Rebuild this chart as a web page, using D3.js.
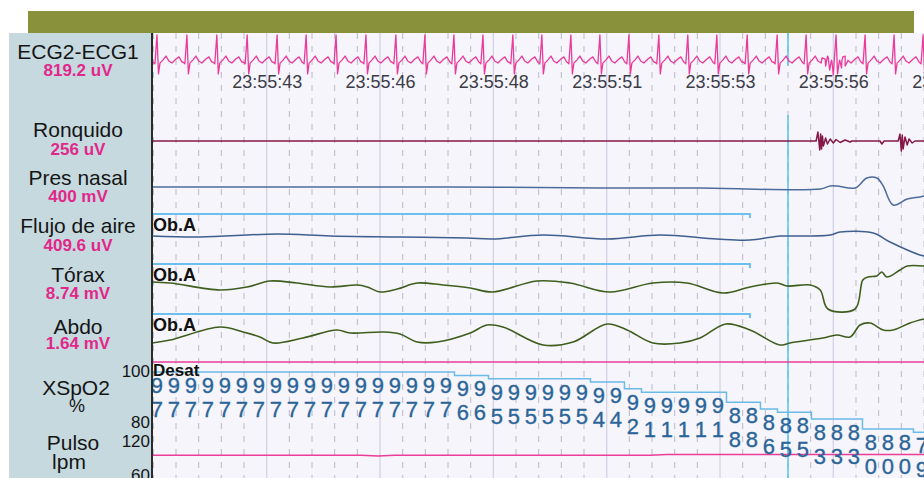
<!DOCTYPE html>
<html>
<head>
<meta charset="utf-8">
<script src="https://cdn.jsdelivr.net/npm/d3@7"></script>
<style>
  body { margin: 0; background: #fff; }
  svg { display: block; font-family: "Liberation Sans", Arial, sans-serif; }
</style>
</head>
<body>
<svg id="chart" width="924" height="478"></svg>
<script>
// ---- values (times are seconds from the left edge of the page) ----
const trackNames = ["ECG2-ECG1", "Ronquido", "Pres nasal", "Flujo de aire", "Tórax", "Abdo"];
const trackUnits = ["819.2 uV", "256 uV", "400 mV", "409.6 uV", "8.74 mV", "1.64 mV"];

const tickTimes = [2.53, 5.03, 7.53, 10.03, 12.53, 15.03, 17.53];
const tickLabels = ["23:55:43", "23:55:46", "23:55:48", "23:55:51", "23:55:53", "23:55:56", "23:55:58"];

// R-peak times
const ecgBeats = [0.11, 0.77, 1.43, 2.10, 2.76, 3.40, 4.06, 4.72, 5.38, 6.02, 6.66, 7.30, 7.96, 8.60,
  9.24, 9.88, 10.52, 11.18, 11.82, 12.46, 13.13, 13.79, 14.43, 15.09, 15.73, 16.37, 17.01];
// one heart beat: [seconds from R, amplitude]
const ecgShape = [[-0.09, 0], [-0.045, -0.07], [0, 1], [0.033, -0.44], [0.066, -0.04], [0.13, 0.07],
  [0.2, 0.22], [0.26, 0.04], [0.33, -0.04], [0.42, 0.11], [0.485, 0.19], [0.55, 0]];
// movement artefact on the ECG
const ecgArtifact = [[14.78, 0.15], [14.86, -0.15], [14.90, 0.22], [14.95, -0.3], [14.99, 0.07],
  [15.03, -0.48], [15.17, 0.07], [15.21, -0.22], [15.24, 0.19], [15.29, -0.15], [15.35, 0.07]];

const snore = [[0, 0], [14.65, 0], [14.69, 0.9], [14.73, -0.9], [14.75, 0.7], [14.77, -0.8], [14.79, 0.5],
  [14.81, -0.5], [14.86, 0.3], [14.90, -0.3], [14.96, 0.2], [15.03, -0.2], [15.09, 0.15], [15.18, -0.15],
  [15.29, 0.1], [15.40, -0.1], [15.44, 0], [16.06, 0], [16.10, -0.3], [16.15, 0], [16.46, 0],
  [16.50, 0.7], [16.53, -1.0], [16.55, 0.6], [16.57, -0.8], [16.61, 0.4], [16.66, -0.4], [16.70, 0.2],
  [16.77, -0.2], [16.83, 0], [17.03, 0]];

const presNasal = [[0, 0.1], [3.27, 0.1], [6.57, 0.1], [9.88, 0], [12.09, 0], [14.74, -0.1], [14.96, 0.2],
  [15.11, 0.2], [15.51, 0], [15.77, 1.0], [15.99, 1.0], [16.13, 0.2], [16.35, -1.7], [16.66, -1.1],
  [16.94, -0.9], [17.03, -0.8]];

const airflow = [[0, 0], [1.06, -0.1], [2.76, 0.2], [3.93, 0], [5.47, -0.1], [6.95, -0.2], [7.52, -0.3],
  [8.63, 0.1], [10.04, -0.3], [11.21, 0.1], [12.46, -0.3], [13.19, -0.4], [13.85, 0], [14.01, 0],
  [14.96, 0.1], [15.18, 0.4], [15.91, 0.3], [16.28, -0.6], [16.94, -1.9], [17.03, -2.0]];

const thorax = [[0, 0.25], [0.40, 0.2], [1.50, -0.15], [2.10, 0], [2.60, 0.3], [3.20, 0.2], [3.93, 0],
  [4.53, 0.1], [4.75, 0], [5.03, -0.25], [5.41, -0.1], [5.85, 0.2], [6.42, 0.1], [7.02, -0.05],
  [7.52, -0.25], [8.49, 0.3], [9.22, 0.2], [10.10, -0.25], [11.05, 0.2], [11.80, 0.2], [12.60, -0.3],
  [13.19, 0], [13.79, 0.2], [14.01, 0.05], [14.52, 0.1], [14.74, -0.15], [14.91, -1.1], [15.51, -1.1],
  [15.68, 0.35], [15.79, 0.5], [15.99, 0.55], [16.10, 0.75], [16.21, 0.5], [16.50, 0.85], [16.66, 1.05],
  [17.03, 1.05]];

const abdomen = [[0, -0.45], [0.40, -0.3], [1.50, 0.35], [2.01, 0.1], [2.38, -0.15], [2.67, -0.45],
  [3.33, -0.2], [4.08, 0.2], [4.37, 0.05], [5.10, 0.1], [5.47, 0], [5.85, -0.4], [6.29, -0.4],
  [7.02, 0.05], [7.39, 0.45], [7.74, 0.35], [8.63, -0.55], [9.29, -0.4], [10.04, 0.5], [10.48, 0.2],
  [11.05, -0.45], [11.65, -0.45], [12.09, -0.2], [12.66, 0.5], [13.19, 0.2], [13.85, -0.55],
  [14.07, -0.45], [14.80, -0.2], [15.11, -0.05], [15.40, -0.15], [15.62, 0.45], [15.84, 0.55],
  [16.13, 0.2], [16.35, 0.2], [16.72, 0.55], [17.03, 0.75]];

const eventLabel = "Ob.A";
const eventSpan = [0, 13.19];
const desatLabel = "Desat";
const cursorTime = 14.03;

// SpO2 (%) and pulse (lpm) samples
const spo2Start = 0.11, spo2Step = 0.375;
const spo2 = [97, 97, 97, 97, 97, 97, 97, 97, 97, 97, 97, 97, 97, 97, 97, 97, 97, 97,
  96, 96, 95, 95, 95, 95, 95, 95, 94, 94, 92, 91, 91, 91, 91, 91,
  88, 88, 86, 85, 85, 83, 83, 83, 80, 80, 80, 79];
const pulse = [91, 91, 91, 91, 91, 91, 91, 91, 91, 91, 91, 91, 91, 90, 91, 91, 91, 91,
  91, 91, 91, 91, 91, 91, 91, 91, 91, 91, 91, 91, 92, 92, 92, 92,
  92, 92, 92, 92, 92, 92, 92, 92, 92, 92, 92, 92];
const spo2Ticks = ["100", "80"];
const pulseTicks = ["120", "60"];

// ---- layout ----
const W = 924, H = 478;
const plotLeft = 152, plotTop = 33;
const svg = d3.select("#chart");

const x = d3.scaleLinear().domain([0, 17.03]).range([plotLeft, W]);

function band(center, half) {
  return d3.scaleLinear().domain([-1, 1]).range([center + half, center - half]);
}
const yEcg = band(62, 27);
const ySnore = band(141, 10);
const yPres = band(188, 10);
const yFlow = band(236, 10);
const yThorax = band(287, 20);
const yAbdo = band(334, 20);
const ySpo2 = d3.scaleLinear().domain([80, 100]).range([429, 362]);
const yPulse = d3.scaleLinear().domain([60, 120]).range([478, 434]);

// background pieces
svg.append("rect").attr("x", 28).attr("y", 11).attr("width", 886).attr("height", 22).attr("fill", "#8a913b");
svg.append("rect").attr("x", 9).attr("y", plotTop).attr("width", plotLeft - 9).attr("height", H - plotTop).attr("fill", "#c6d9df");
svg.append("rect").attr("x", plotLeft).attr("y", plotTop).attr("width", W - plotLeft).attr("height", H - plotTop).attr("fill", "#f6f5fb");

svg.append("clipPath").attr("id", "plot")
  .append("rect").attr("x", plotLeft).attr("y", plotTop).attr("width", W - plotLeft).attr("height", H - plotTop);

const plot = svg.append("g").attr("clip-path", "url(#plot)");

// vertical grid: dashed every 0.5 s, solid at the labelled times
const gridTimes = d3.range(0.03, 17.1, 0.5);
const isMajor = d => tickTimes.some(t => Math.abs(t - d) < 0.01);
plot.selectAll(".grid").data(gridTimes).enter().append("line")
  .attr("x1", d => x(d)).attr("x2", d => x(d))
  .attr("y1", plotTop).attr("y2", H)
  .attr("stroke", d => isMajor(d) ? "#d3d2e6" : "#b9b9c9")
  .attr("stroke-width", d => isMajor(d) ? 1.3 : 1)
  .attr("stroke-dasharray", d => isMajor(d) ? null : "6,7");

// time labels
const xAxis = d3.axisBottom(x).tickValues(tickTimes).tickFormat((d, i) => tickLabels[i]).tickSize(0).tickPadding(3);
const axisG = svg.append("g").attr("transform", "translate(0,72)").call(xAxis);
axisG.select(".domain").remove();
axisG.selectAll("text").attr("font-size", 18).attr("fill", "#3c3c48")
  .attr("font-family", '"Liberation Sans", Arial, sans-serif');

// cursor
plot.append("line").attr("x1", x(cursorTime)).attr("x2", x(cursorTime)).attr("y1", plotTop).attr("y2", 66)
  .attr("stroke", "#5cc0ea").attr("stroke-width", 1.5);
plot.append("line").attr("x1", x(cursorTime)).attr("x2", x(cursorTime)).attr("y1", 115).attr("y2", H)
  .attr("stroke", "#5cc0ea").attr("stroke-width", 1.5);

// ECG built from beat times and the beat shape
let ecgPts = [];
ecgBeats.forEach((b, i) => {
  const next = i < ecgBeats.length - 1 ? ecgBeats[i + 1] : 99;
  ecgShape.forEach(([dt, v]) => {
    const t = b + dt;
    if (t < next - 0.09 && t >= -0.2) ecgPts.push([t, v]);
  });
});
ecgPts = ecgPts.concat(ecgArtifact).sort((a, b) => a[0] - b[0]);

function trace(data, yScale, color, width, curve) {
  const line = d3.line().x(d => x(d[0])).y(d => yScale(d[1])).curve(curve || d3.curveLinear);
  plot.append("path").datum(data).attr("d", line)
    .attr("fill", "none").attr("stroke", color).attr("stroke-width", width)
    .attr("stroke-linejoin", "round");
}

const smooth = d3.curveCatmullRom.alpha(0.5);
trace(ecgPts, yEcg, "#ea3a9c", 1.3);
trace(snore, ySnore, "#861848", 1.5);
trace(presNasal, yPres, "#4c6c9c", 1.5, smooth);
trace(airflow, yFlow, "#3f5f8f", 1.5, smooth);
trace(thorax, yThorax, "#3f5e1e", 1.6, smooth);
trace(abdomen, yAbdo, "#3f5e1e", 1.6, smooth);

// obstructive apnea event bars, drawn just above each trace
[[yFlow, 2.2], [yThorax, 1.15], [yAbdo, 1.0]].forEach(([ys, v]) => {
  const y0 = ys(v);
  plot.append("path")
    .attr("d", `M${x(eventSpan[0])},${y0}H${x(eventSpan[1])}v4`)
    .attr("fill", "none").attr("stroke", "#6cc0ee").attr("stroke-width", 2);
  svg.append("text").attr("x", plotLeft + 1).attr("y", y0 + 17)
    .attr("font-size", 18).attr("font-weight", "bold").attr("fill", "#111")
    .text(eventLabel);
});

// SpO2 / pulse
plot.append("line").attr("x1", plotLeft).attr("x2", W).attr("y1", ySpo2(100)).attr("y2", ySpo2(100))
  .attr("stroke", "#ec3d98").attr("stroke-width", 1.6);

const spo2Pts = spo2.map((v, i) => [spo2Start + spo2Step * i, v]);
const spo2Line = [[0, spo2[0]]].concat(spo2Pts, [[17.2, spo2[spo2.length - 1]]]);
plot.append("path").datum(spo2Line)
  .attr("d", d3.line().x(d => x(d[0])).y(d => ySpo2(d[1])).curve(d3.curveStep))
  .attr("fill", "none").attr("stroke", "#6cbbe6").attr("stroke-width", 1.5);

const pulsePts = pulse.map((v, i) => [spo2Start + spo2Step * i, v]);
const pulseLine = [[0, pulse[0]]].concat(pulsePts, [[17.2, pulse[pulse.length - 1]]]);
plot.append("path").datum(pulseLine)
  .attr("d", d3.line().x(d => x(d[0])).y(d => yPulse(d[1])))
  .attr("fill", "none").attr("stroke", "#ec3d98").attr("stroke-width", 1.6);

const digits = plot.append("g").attr("font-size", 22).attr("fill", "#2b6598")
  .attr("stroke", "#2b6598").attr("stroke-width", 0.35).attr("text-anchor", "middle");
spo2Pts.forEach(([t, v]) => {
  digits.append("text").attr("x", x(t)).attr("y", ySpo2(v) + 21).text(Math.floor(v / 10));
  digits.append("text").attr("x", x(t)).attr("y", ySpo2(v) + 45).text(v % 10);
});

svg.append("text").attr("x", plotLeft + 1).attr("y", 376).attr("font-size", 17).attr("font-weight", "bold")
  .attr("fill", "#111").text(desatLabel);

// left axis line
svg.append("line").attr("x1", plotLeft).attr("x2", plotLeft).attr("y1", plotTop).attr("y2", H)
  .attr("stroke", "#2b2b2b").attr("stroke-width", 2);

// channel labels
const nameY = [59, 137, 185, 233, 282, 334];
const unitY = [76, 155, 202, 251, 299, 349];
const labels = svg.append("g").attr("text-anchor", "middle");
trackNames.forEach((n, i) => {
  labels.append("text").attr("x", 78).attr("y", nameY[i]).attr("font-size", 21).attr("fill", "#151515").text(n);
  labels.append("text").attr("x", 78).attr("y", unitY[i]).attr("font-size", 17).attr("font-weight", "bold")
    .attr("fill", "#e0288a").text(trackUnits[i]);
});
labels.append("text").attr("x", 76).attr("y", 395).attr("font-size", 21).attr("fill", "#151515").text("XSpO2");
labels.append("text").attr("x", 77).attr("y", 412).attr("font-size", 18).attr("fill", "#151515").text("%");
labels.append("text").attr("x", 73).attr("y", 450).attr("font-size", 21).attr("fill", "#151515").text("Pulso");
labels.append("text").attr("x", 69).attr("y", 469).attr("font-size", 21).attr("fill", "#151515").text("lpm");

const scaleLabels = svg.append("g").attr("text-anchor", "end").attr("font-size", 17).attr("fill", "#151515");
scaleLabels.append("text").attr("x", 150).attr("y", 377).text(spo2Ticks[0]);
scaleLabels.append("text").attr("x", 150).attr("y", 428).text(spo2Ticks[1]);
scaleLabels.append("text").attr("x", 150).attr("y", 447).text(pulseTicks[0]);
scaleLabels.append("text").attr("x", 150).attr("y", 481).text(pulseTicks[1]);
</script>
</body>
</html>
